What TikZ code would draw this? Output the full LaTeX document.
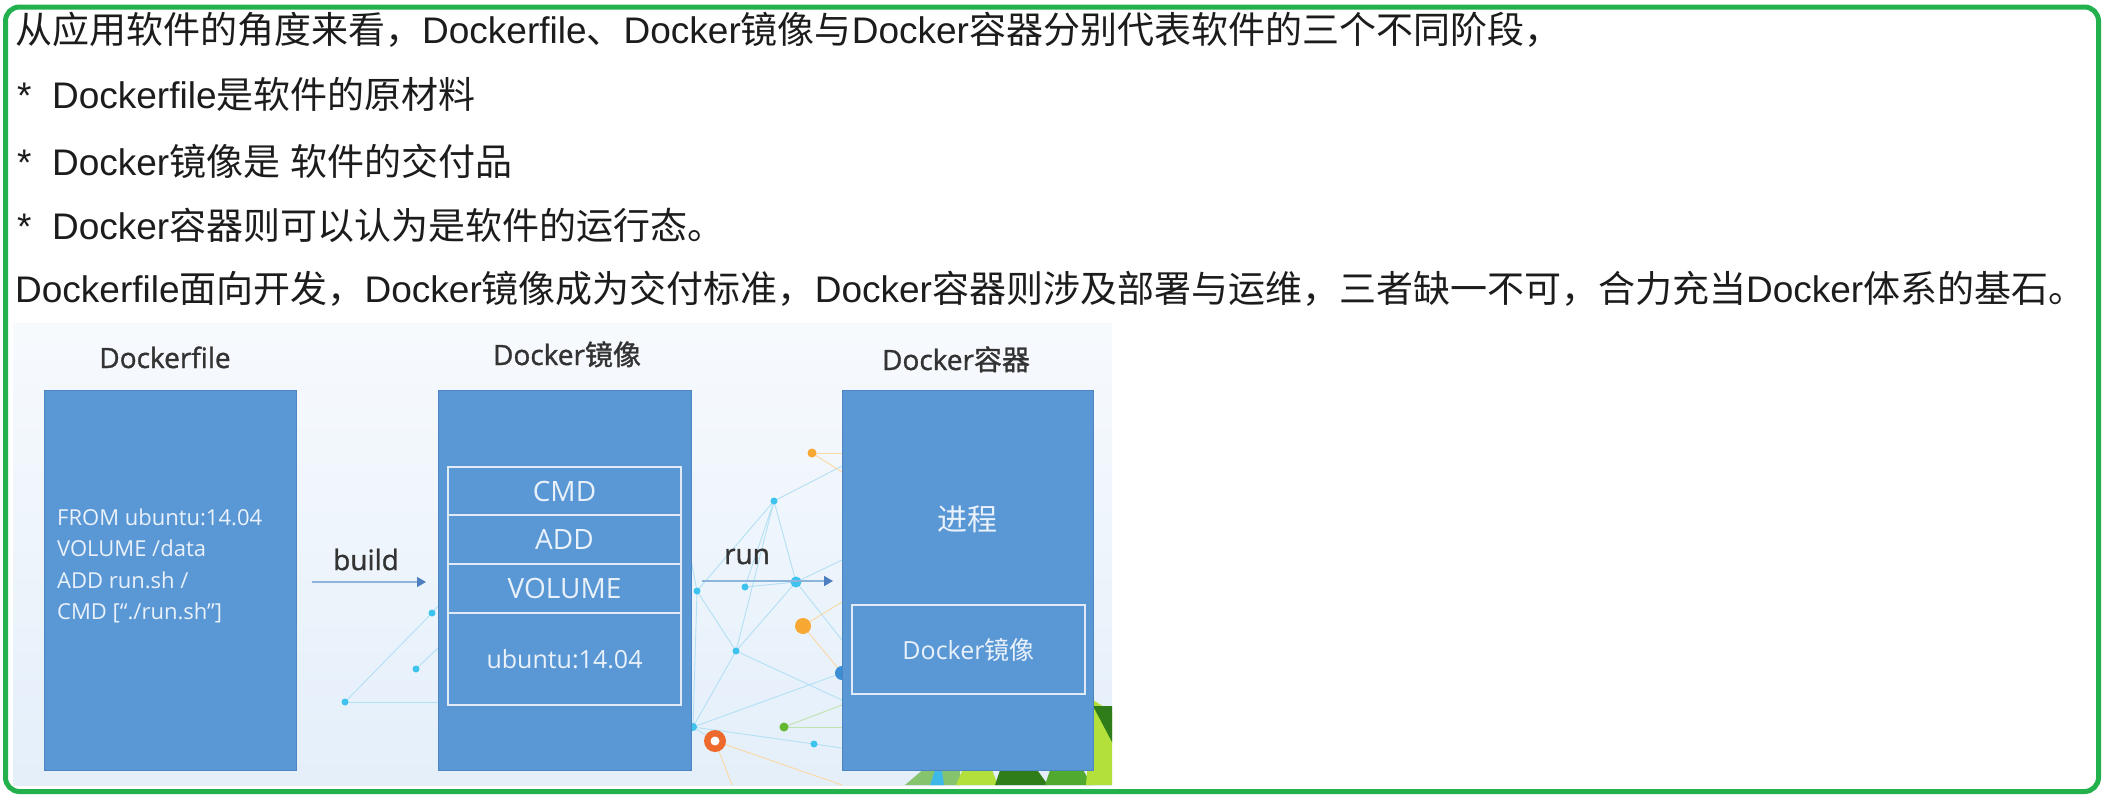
\documentclass[tikz,border=0pt]{standalone}
\usepackage{fontspec}
\setmainfont{Liberation Sans}
\newfontfamily\cjk{Noto Sans CJK SC}
\newfontfamily\cjkb[FakeBold=1.2]{Noto Sans CJK SC}
\newfontfamily\osans{Open Sans}
\newfontfamily\osansb[FakeBold=1.2]{Open Sans}
\usetikzlibrary{arrows.meta}
\newcommand\zh[1]{{\cjk #1}}
\newcommand\zhb[1]{{\cjkb #1}}
\definecolor{framec}{HTML}{22B14C}
\definecolor{toptxt}{HTML}{1C1C1C}
\definecolor{boxblue}{HTML}{5A97D5}
\definecolor{boxedge}{HTML}{4C85C2}
\definecolor{boxtext}{HTML}{E9F1FA}
\definecolor{boxline}{HTML}{E1EBF7}
\definecolor{titlec}{HTML}{333333}
\definecolor{bgtop}{HTML}{F7FAFD}
\definecolor{bgbot}{HTML}{E4EFFA}
\definecolor{netline}{HTML}{B3E0F4}
\definecolor{netdot}{HTML}{3EC2EE}
\definecolor{orng}{HTML}{F6A832}
\definecolor{ringc}{HTML}{EE6A2C}
\definecolor{dotgreen}{HTML}{63B832}
\definecolor{dotblue}{HTML}{3A8ED6}
\definecolor{arrowline}{HTML}{8DB4DC}
\definecolor{arrowhead}{HTML}{4E7FC0}
\definecolor{lime}{HTML}{B4E03C}
\definecolor{dkgreen}{HTML}{2F7D1A}
\definecolor{mdgreen}{HTML}{52A92F}
\definecolor{cyanbit}{HTML}{3DB8E8}
\begin{document}
\begin{tikzpicture}[x=1pt,y=-1pt,
  toptext/.style={anchor=base west,inner sep=0pt,font=\fontsize{37}{44}\selectfont,text=toptxt},
  title/.style={anchor=base,inner sep=0pt,font=\osansb\fontsize{28}{32}\selectfont,text=titlec},
  bigbox/.style={anchor=north west,inner sep=0pt,outer sep=0pt,fill=boxblue,draw=boxedge,line width=1pt,minimum height=380pt},
  rowbox/.style={anchor=north west,inner sep=0pt,outer sep=0pt,draw=boxline,line width=2.5pt,text=boxtext,font=\osans\fontsize{28}{32}\selectfont,minimum width=233pt},
  code/.style={anchor=base west,inner sep=0pt,text=boxtext,font=\osans\fontsize{22}{26}\selectfont},
  flow/.style={draw=arrowline,line width=1.6pt,-{Triangle[length=9pt,width=10pt,color=arrowhead]}},
  net/.style={draw=netline,line width=0.9pt},
  onet/.style={draw=orng!45,line width=0.9pt},
  gnet/.style={draw=dotgreen!40,line width=0.9pt}
]
\useasboundingbox (0,0) rectangle (2110,801);
\fill[white] (0,0) rectangle (2110,801);

% ---------- top text ----------
\node[toptext] (l1) at (15,43) {\zh{从应用软件的角度来看，}Dockerfile\zh{、}Docker\zh{镜像与}Docker\zh{容器分别代表软件的三个不同阶段，}};
\node[toptext] (l2) at (17,108) {*\ \ Dockerfile\zh{是软件的原材料}};
\node[toptext] (l3) at (17,175) {*\ \ Docker\zh{镜像是} \zh{软件的交付品}};
\node[toptext] (l4) at (17,239) {*\ \ Docker\zh{容器则可以认为是软件的运行态。}};
\node[toptext] (l5) at (15,302) {Dockerfile\zh{面向开发，}Docker\zh{镜像成为交付标准，}Docker\zh{容器则涉及部署与运维，三者缺一不可，合力充当}Docker\zh{体系的基石。}};

% ---------- diagram background ----------
\shade[top color=bgtop,bottom color=bgbot] (13,323) rectangle (1112,785);

% green shapes bottom right
\fill[mdgreen!70] (905,785) -- (960,738) -- (960,785) -- cycle;
\fill[cyanbit] (930,785) -- (940,755) -- (944,785) -- cycle;
\fill[lime] (956,785) -- (978,735) -- (998,785) -- cycle;
\fill[dkgreen] (995,785) -- (1012,735) -- (1048,785) -- cycle;
\fill[mdgreen] (1045,785) -- (1062,735) -- (1092,785) -- cycle;
\fill[lime] (1086,785) -- (1093,700) -- (1112,712) -- (1112,785) -- cycle;
\fill[dkgreen] (1093,706) -- (1112,706) -- (1112,742) -- cycle;

% left network
\draw[net] (345,702) -- (432,613);
\draw[net] (345,702) -- (438,702);
\draw[net] (432,613) -- (438,606);
\draw[net] (416,669) -- (438,648);
\fill[netdot] (432,613) circle[radius=3.5pt];
\fill[netdot] (416,669) circle[radius=3.5pt];
\fill[netdot] (345,702) circle[radius=3.5pt];

% middle network
\draw[net] (774,501) -- (697,591);
\draw[net] (774,501) -- (745,587);
\draw[net] (774,501) -- (796,582);
\draw[net] (774,501) -- (736,651);
\draw[net] (774,501) -- (842,466);
\draw[net] (697,591) -- (736,651);
\draw[net] (697,591) -- (693,727);
\draw[net] (697,591) -- (691,560);
\draw[net] (745,587) -- (796,582);
\draw[net] (796,582) -- (842,560);
\draw[net] (796,582) -- (736,651);
\draw[net] (796,582) -- (842,640);
\draw[net] (736,651) -- (693,727);
\draw[net] (736,651) -- (842,700);
\draw[net] (693,727) -- (842,673);
\draw[net] (693,727) -- (814,744);
\draw[net] (693,727) -- (715,741);
\draw[net] (814,744) -- (842,748);
\draw[onet] (812,453) -- (842,453);
\draw[onet] (812,453) -- (842,472);
\draw[onet] (803,626) -- (842,602);
\draw[onet] (803,626) -- (842,673);
\draw[onet] (715,741) -- (842,785);
\draw[onet] (715,741) -- (732,785);
\draw[gnet] (784,727) -- (842,727);
\draw[gnet] (784,727) -- (842,705);
\fill[netdot] (774,501) circle[radius=3.5pt];
\fill[netdot] (697,591) circle[radius=3.5pt];
\fill[netdot] (745,587) circle[radius=3.5pt];
\fill[netdot] (796,582) circle[radius=5.5pt];
\fill[netdot] (736,651) circle[radius=3.5pt];
\fill[netdot] (693,727) circle[radius=4pt];
\fill[netdot] (814,744) circle[radius=3.5pt];
\fill[dotblue] (842,673) circle[radius=7pt];
\fill[orng] (812,453) circle[radius=4.5pt];
\fill[orng] (803,626) circle[radius=8pt];
\fill[dotgreen] (784,727) circle[radius=4.5pt];
\fill[ringc] (715,741) circle[radius=11pt];
\fill[white] (715,741) circle[radius=4.5pt];

% ---------- boxes ----------
\node[bigbox,minimum width=252pt] (df) at (44,390) {};
\node[bigbox,minimum width=253pt] (img) at (438,390) {};
\node[bigbox,minimum width=251pt] (ctr) at (842,390) {};

% titles
\node[title] (tdf) at (165,368) {Dockerfile};
\node[title] (timg) at (567,365) {Docker\zhb{镜像}};
\node[title] (tctr) at (956,370) {Docker\zhb{容器}};

% Dockerfile content
\node[code] (c1) at (57,525) {FROM ubuntu:14.04};
\node[code] (c2) at (57,556.5) {VOLUME /data};
\node[code] (c3) at (57,588) {ADD run.sh /};
\node[code] (c4) at (57,619.5) {CMD [“./run.sh”]};

% image layers
\node[rowbox,minimum height=48pt] (cmd) at (448,467) {CMD};
\node[rowbox,minimum height=49pt] (add) at (448,515) {ADD};
\node[rowbox,minimum height=49pt] (vol) at (448,564) {VOLUME};
\node[rowbox,minimum height=92pt,font=\osans\fontsize{25}{30}\selectfont] (ubu) at (448,613) {ubuntu:14.04};

% container content
\node[inner sep=0pt,text=boxtext,font=\cjk\fontsize{30}{34}\selectfont] (proc) at (967,519) {进程};
\node[rowbox,minimum height=89pt,font=\osans\fontsize{25}{30}\selectfont] (cimg) at (852,605) {Docker\zh{镜像}};

% arrows
\coordinate (b1) at (312,582);
\coordinate (b2) at (426,582);
\coordinate (r1) at (702,581);
\coordinate (r2) at (833,581);
\draw[flow] (b1) -- (b2);
\draw[flow] (r1) -- (r2);
\node[title,anchor=base] (lbuild) at (366,570) {build};
\node[title,anchor=base] (lrun) at (747,564) {run};

% ---------- frame ----------
\draw[framec,line width=5pt,rounded corners=14pt] (5.5,7) rectangle (2098.5,791.5);
\end{tikzpicture}
\end{document}
